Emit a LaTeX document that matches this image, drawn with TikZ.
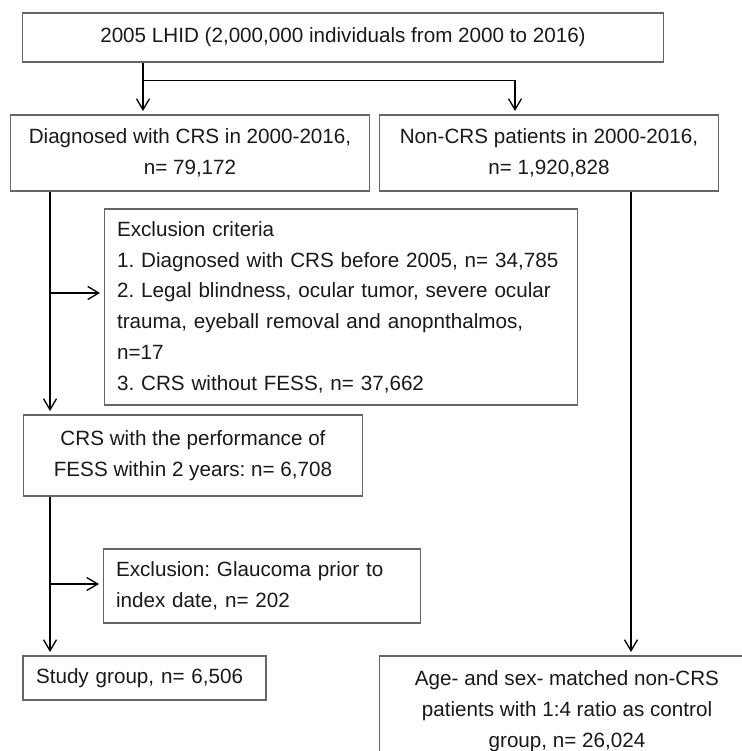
\documentclass[tikz,border=0pt]{standalone}
\usepackage{fontspec}
\setmainfont{Liberation Sans}
\usetikzlibrary{arrows.meta}
\frenchspacing

\tikzset{
  box/.style={draw=black!60, line width=0.6pt, inner sep=0pt, align=center,
    text=black!90, font=\fontsize{11.75pt}{17.5pt}\selectfont},
  lbox/.style={box, align=left, inner xsep=0.26cm},
  flow/.style={-{Straight Barb[length=0.22cm,width=0.26cm]}, line width=0.75pt, shorten >=0.07cm},
}

\begin{document}
\begin{tikzpicture}[x=0.02cm, y=-0.02cm]
				\clip (0,0) rectangle (742,751);

				% 数据来源
				\node[box, minimum width=12.84cm, minimum height=0.98cm] (lhid) at (343,37.5)
					{2005 LHID (2,000,000 individuals from 2000 to 2016)};

				% 两组
				\node[box, minimum width=7.2cm, minimum height=1.52cm] (crs) at (190,153)
					{Diagnosed with CRS in 2000-2016,\\n= 79,172};
				\node[box, minimum width=6.8cm, minimum height=1.52cm] (noncrs) at (549,153)
					{Non-CRS patients in 2000-2016,\\n= 1,920,828};

				% 排除标准
				\node[lbox, text width=8.96cm, minimum height=3.92cm] (excl) at (341,307)
					{Exclusion criteria\\
					1. Diagnosed with CRS before 2005, n= 34,785\\
					2. Legal blindness, ocular tumor, severe ocular\\
					trauma, eyeball removal and anopnthalmos,\\
					n=17\\
					3. CRS without FESS, n= 37,662};

				\node[box, minimum width=6.8cm, minimum height=1.62cm] (fess) at (193,455.5)
					{CRS with the performance of\\FESS within 2 years: n= 6,708};

				\node[lbox, text width=5.84cm, minimum height=1.48cm] (glau) at (262,586)
					{Exclusion: Glaucoma prior to\\index date, n= 202};

				% 最终分组
				\node[lbox, text width=4.34cm, minimum height=0.88cm] (study) at (144.5,678)
					{Study group, n= 6,506};
				\node[box, minimum width=7.52cm, minimum height=2.2cm] (control) at (567,711)
					{Age- and sex- matched non-CRS\\patients with 1:4 ratio as control\\group, n= 26,024};

				% 分支点
				\coordinate (j1) at (143,80.7);
				\coordinate (j2) at (515,80.7);
				\coordinate (s1) at (50,293);
				\coordinate (s2) at (50,584);
				\coordinate (r1) at (631,191);

				% 连线
				\draw[flow] (lhid.south -| j1) -- (j1) -- (crs.north -| j1);
				\draw[flow] (j1) -- (j2) -- (noncrs.north -| j2);
				\draw[flow] (crs.south -| s1) -- (fess.north -| s1);
				\draw[flow] (s1) -- (excl.west |- s1);
				\draw[flow] (fess.south -| s2) -- (study.north -| s2);
				\draw[flow] (s2) -- (glau.west |- s2);
				\draw[flow] (noncrs.south -| r1) -- (control.north -| r1);
			\end{tikzpicture}
\end{document}
